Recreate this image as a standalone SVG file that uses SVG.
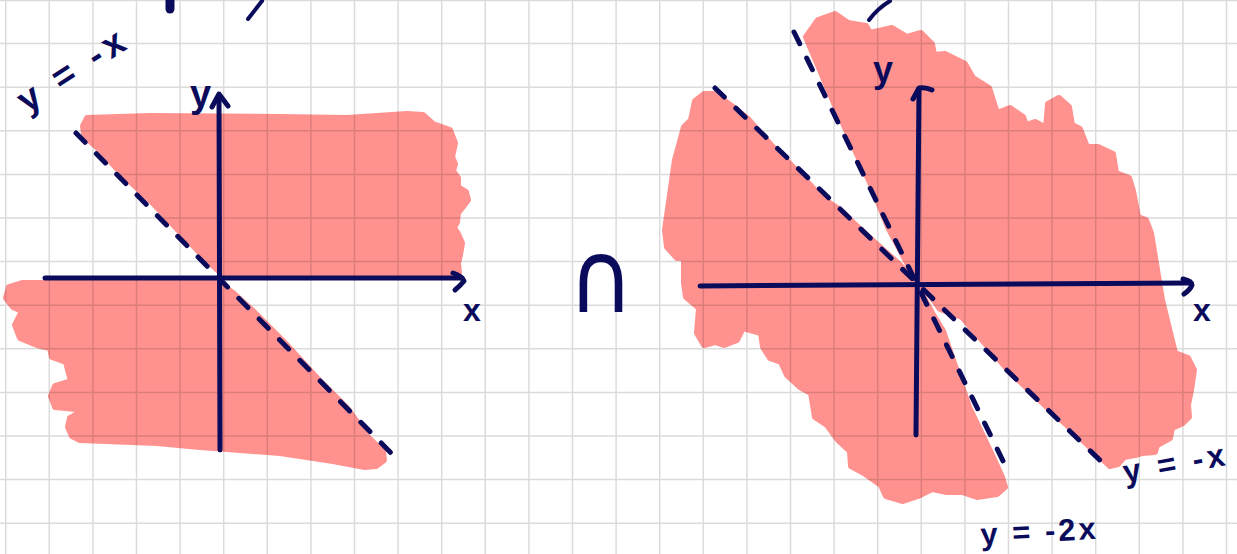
<svg xmlns="http://www.w3.org/2000/svg" width="1237" height="554" viewBox="0 0 1237 554">
<defs>
<style>
.pink{fill:#ff928f;stroke:#ff928f;stroke-width:6;stroke-linejoin:round}
.grid{stroke:rgba(0,0,0,0.14);stroke-width:1.5;fill:none}
.axis{stroke:#0b0b5c;stroke-width:5;fill:none;stroke-linecap:round;stroke-linejoin:round}
.dash{stroke:#0b0b5c;stroke-width:5;fill:none;stroke-linecap:round;stroke-dasharray:13 16}
.ink{stroke:#0b0b5c;fill:none;stroke-linecap:round;stroke-linejoin:round}
.lbl{fill:#0b0b5c;font-family:"Liberation Sans",Arial,sans-serif;font-weight:bold}
.sym{fill:#0b0b5c;font-family:"DejaVu Sans",sans-serif}
</style>
</defs>
<rect width="1237" height="554" fill="#ffffff"/>
<g id="shading">
<path class="pink" d="M87,118 L150,116 L280,117 L347,118 L407,114 L423,115 L433,124 L450,130 L455,143 L452,157 L455,164 L453,171 L458,178 L458,187 L466,192 L468,200 L462,208 L458,213 L457,222 L454,228 L458,234 L462,243 L460,255 L458,263 L459,273 L222,274 L205,258 L180,232 L150,200 L120,172 L100,150 L92,143 L84,134 L83,126 Z"/>
<path class="pink" d="M22,283 L215,283 L223,286 L233,293 L245,304 L253,311 L283,341 L317,378 L347,408 L367,436 L383,452 L384,460 L376,466 L365,467 L333,461 L280,453 L200,447 L157,443 L80,440 L72,436 L68,427 L70,418 L77,414 L76,409 L55,407 L51,396 L55,386 L71,381 L68,370 L66,362 L52,357 L50,348 L37,345 L20,338 L15,325 L22,311 L13,307 L6,298 L9,287 Z"/>
<path class="pink" d="M806,37 L818,20 L835,14 L848,23 L866,26 L870,33 L892,28 L907,37 L921,33 L932,44 L934,55 L945,54 L965,64 L973,78 L989,88 L997,113 L1010,108 L1023,117 L1026,125 L1035,122 L1046,128 L1048,104 L1059,98 L1069,107 L1072,125 L1080,129 L1087,147 L1098,147 L1113,154 L1116,173 L1129,178 L1133,191 L1138,217 L1146,220 L1151,233 L1162,300 L1175,353 L1188,358 L1194,370 L1191,390 L1188,405 L1189,417 L1183,423 L1172,428 L1170,438 L1157,445 L1155,452 L1142,453 L1135,455 L1124,457 L1118,464 L1110,466 L1068,426 L1046,406 L1010,372 L962,317 L940,309 L925,288 L918,284 L914,276 L888,227 L872,187 L837,110 Z"/>
<path class="pink" d="M704,94 L715,94 L737,110 L748,119 L770,144 L800,174 L822,198 L837,208 L873,241 L899,264 L917,285 L932,313 L943,331 L969,407 L991,453 L1002,477 L1005,487 L997,494 L977,497 L962,492 L947,492 L932,489 L918,496 L903,501 L886,496 L881,485 L864,473 L851,466 L850,451 L838,440 L827,425 L815,417 L811,393 L800,387 L787,375 L781,362 L770,358 L763,347 L761,333 L743,328 L737,340 L724,345 L715,342 L704,345 L697,333 L699,308 L686,297 L684,283 L684,258 L677,258 L667,247 L665,230 L675,160 L684,127 L691,120 L695,101 Z"/>
</g>
<g id="grid">
<path class="grid" d="M5.7,0V554M49.3,0V554M92.9,0V554M136.5,0V554M180.1,0V554M223.7,0V554M267.3,0V554M310.9,0V554M354.5,0V554M398.1,0V554M441.7,0V554M485.3,0V554M528.9,0V554M572.5,0V554M616.1,0V554M659.7,0V554M703.3,0V554M746.9,0V554M790.5,0V554M834.1,0V554M877.7,0V554M921.3,0V554M964.9,0V554M1008.5,0V554M1052.1,0V554M1095.7,0V554M1139.3,0V554M1182.9,0V554M1226.5,0V554M0,0.5H1237M0,43.6H1237M0,87.2H1237M0,130.8H1237M0,174.4H1237M0,218H1237M0,261.6H1237M0,305.2H1237M0,348.8H1237M0,392.4H1237M0,436H1237M0,479.6H1237M0,523.2H1237"/>
</g>
<g id="left-graph">
<path class="axis" d="M45,278 L462,278"/>
<path class="axis" d="M453,273 Q462,276 464,281 Q460,286 455,290"/>
<path class="axis" d="M220,450 L219,95"/>
<path class="axis" d="M212,107 L219,94 L228,106"/>
<path class="dash" d="M76,133 L395,457"/>
<text class="lbl" x="27" y="114" font-size="37" letter-spacing="5" transform="rotate(-33 27 114)">y = -x</text>
<text class="lbl" x="190" y="107" font-size="38">y</text>
<text class="lbl" x="463" y="321" font-size="32">x</text>
</g>
<g id="intersection">
<text class="sym" x="568" y="312" font-size="100" transform="translate(568 312) scale(0.9 1) translate(-568 -312)">∩</text>
</g>
<g id="right-graph">
<path class="axis" d="M700,286 L1190,283"/>
<path class="axis" d="M1183,279 Q1192,281 1192,285 Q1190,290 1184,294"/>
<path class="axis" d="M916,435 L919,89"/>
<path class="axis" d="M913,99 L919,88 Q926,87 932,90"/>
<path class="dash" d="M715,88 L1107,467"/>
<path class="dash" d="M794,32 L1006,467"/>
<text class="lbl" x="873" y="82" font-size="36">y</text>
<text class="lbl" x="1193" y="321" font-size="32">x</text>
<text class="lbl" x="1125" y="483" font-size="32" letter-spacing="4" transform="rotate(-10 1125 483)">y = -x</text>
<text class="lbl" x="981" y="545" font-size="31" letter-spacing="3" transform="rotate(-3 981 545)">y = -2x</text>
</g>
<g id="cut-marks">
<path class="ink" stroke-width="9" d="M170,1 L170,9"/>
<path class="ink" stroke-width="4" d="M262,1 L248,19"/>
<path class="ink" stroke-width="4" d="M869,20 Q878,8 890,1"/>
</g>
</svg>
